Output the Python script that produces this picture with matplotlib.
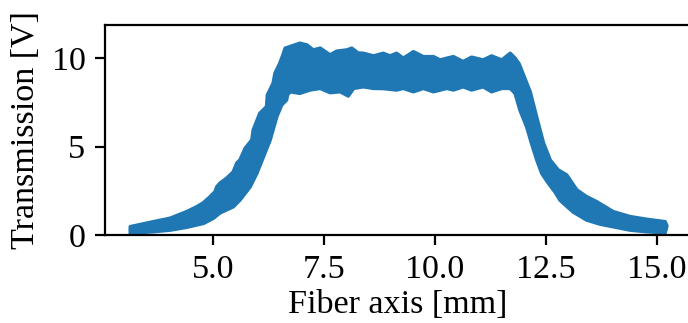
import matplotlib
matplotlib.use("Agg")
import matplotlib.pyplot as plt

# Upper and lower edges of the noisy transmission band
upper_mm = [3.14, 3.66, 4.04, 4.41, 4.64, 4.79, 4.94, 5.05, 5.09, 5.16, 5.31,
            5.46, 5.54, 5.61, 5.73, 5.88, 5.91, 6.06, 6.21, 6.23, 6.36, 6.40,
            6.51, 6.58, 6.63, 6.74, 6.96, 7.12, 7.26, 7.42, 7.64, 7.79, 8.02,
            8.13, 8.27, 8.39, 8.62, 8.84, 8.99, 9.14, 9.29, 9.52, 9.74, 9.97,
            10.12, 10.27, 10.42, 10.64, 10.83, 11.09, 11.28, 11.51, 11.70,
            11.81, 11.90, 11.99, 12.15, 12.30, 12.45, 12.60, 12.78, 12.97,
            13.20, 13.42, 13.65, 14.02, 14.40, 14.77, 15.19, 15.23]
upper_V = [0.47, 0.75, 0.95, 1.32, 1.60, 1.83, 2.17, 2.45, 2.73, 2.93, 3.21,
           3.57, 4.07, 4.24, 4.91, 5.38, 5.94, 6.89, 7.26, 7.92, 8.59, 9.15,
           9.72, 10.19, 10.57, 10.66, 10.85, 10.75, 10.47, 10.57, 10.19, 10.40,
           10.47, 10.57, 10.30, 10.28, 10.13, 10.28, 10.13, 10.28, 10.00,
           10.37, 10.09, 10.09, 9.90, 10.00, 10.09, 9.81, 10.06, 9.90, 10.13,
           9.90, 10.28, 10.00, 9.68, 9.11, 8.09, 6.62, 5.19, 4.24, 3.68, 3.40,
           2.55, 2.17, 1.88, 1.32, 1.04, 0.89, 0.75, 0.51]

lower_mm = [3.14, 3.66, 4.04, 4.41, 4.79, 5.01, 5.16, 5.46, 5.61, 5.84, 5.99,
            6.14, 6.29, 6.44, 6.55, 6.66, 6.68, 6.74, 6.96, 7.19, 7.42, 7.64,
            7.87, 8.05, 8.17, 8.39, 8.62, 8.84, 9.14, 9.29, 9.52, 9.74, 9.97,
            10.27, 10.42, 10.64, 10.83, 11.09, 11.28, 11.51, 11.70, 11.81,
            11.92, 12.07, 12.18, 12.30, 12.41, 12.56, 12.71, 12.82, 12.90,
            13.12, 13.42, 13.72, 14.02, 14.40, 14.77, 15.19]
lower_V = [0.10, 0.19, 0.28, 0.44, 0.66, 0.95, 1.25, 1.60, 1.98, 2.73, 3.49,
           4.43, 5.38, 6.70, 7.36, 7.64, 7.92, 8.11, 8.02, 8.21, 8.30, 8.06,
           8.11, 7.87, 8.30, 8.39, 8.30, 8.29, 8.21, 8.30, 8.11, 8.30, 8.11,
           8.30, 8.21, 8.39, 8.21, 8.39, 8.11, 8.30, 8.30, 8.02, 7.07, 6.13,
           5.19, 4.24, 3.49, 2.93, 2.43, 1.98, 1.79, 1.30, 0.85, 0.62, 0.47,
           0.28, 0.19, 0.13]

xticks = [5.0, 7.5, 10.0, 12.5, 15.0]
xtick_labels = ['5.0', '7.5', '10.0', '12.5', '15.0']
yticks = [0, 5, 10]

plt.rcParams['font.family'] = ['Liberation Serif', 'DejaVu Serif']
plt.rcParams['font.size'] = 12.3

fig = plt.figure(figsize=(3.44, 1.615), dpi=200)
ax = fig.add_axes([0.1526, 0.2724, 0.8503, 0.650])

col = '#1f77b4'
poly_x = upper_mm + lower_mm[::-1]
poly_y = upper_V + lower_V[::-1]
ax.fill(poly_x, poly_y, facecolor=col, edgecolor=col, lw=1.3, joinstyle='round')

ax.set_xlim(2.57, 15.75)
ax.set_ylim(0, 11.88)
ax.set_xticks(xticks)
ax.set_xticklabels(xtick_labels)
ax.set_yticks(yticks)
ax.set_xlabel('Fiber axis [mm]', labelpad=1.5)
ax.set_ylabel('Transmission [V]')

fig.savefig('out.png', dpi=200)
